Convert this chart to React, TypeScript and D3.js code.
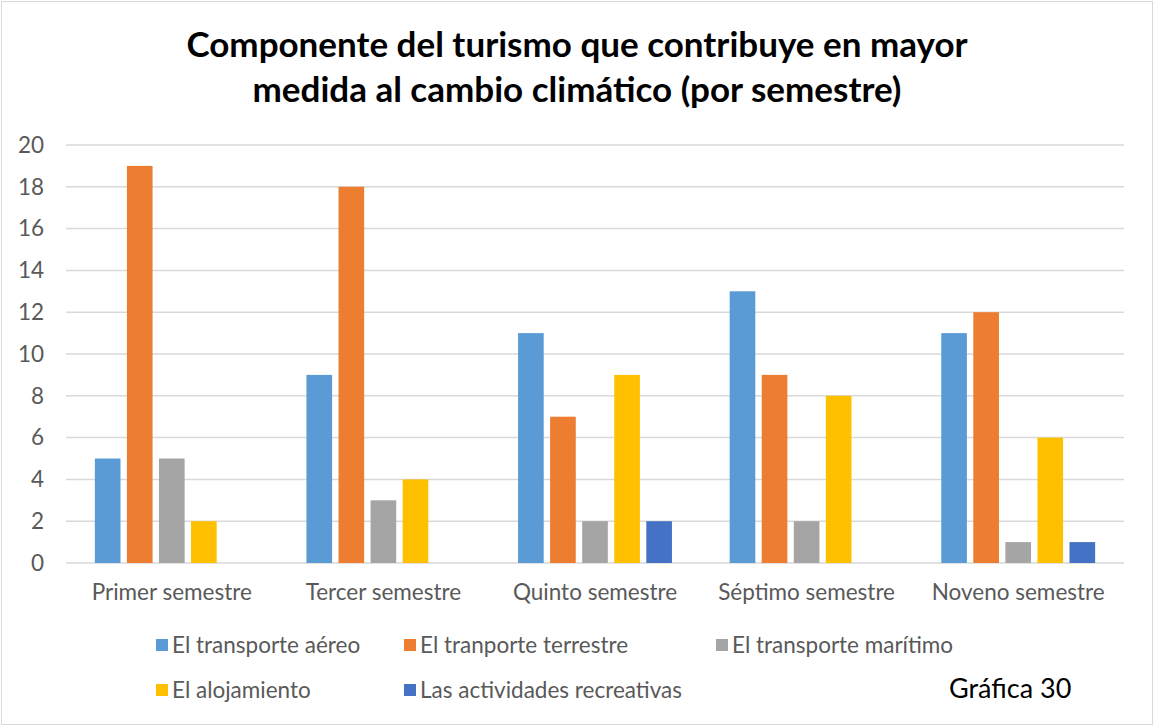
import React, { useRef, useEffect } from 'react'
import { select, scaleBand, scaleLinear, axisLeft, axisBottom, range } from 'd3'

const categories = ['Primer semestre', 'Tercer semestre', 'Quinto semestre', 'Séptimo semestre', 'Noveno semestre']
const seriesNames = ['El transporte aéreo', 'El tranporte terrestre', 'El transporte marítimo', 'El alojamiento', 'Las actividades recreativas']
const aereo = [5, 9, 11, 13, 11]
const terrestre = [19, 18, 7, 9, 12]
const maritimo = [5, 3, 2, 2, 1]
const alojamiento = [2, 4, 9, 8, 6]
const recreativas = [0, 0, 2, 0, 1]
const yTicks = [0, 2, 4, 6, 8, 10, 12, 14, 16, 18, 20]
const colors = ['#5B9BD5', '#ED7D31', '#A5A5A5', '#FFC000', '#4472C4']

const W = 1154
const H = 726
const FONT = 'Lato, "Open Sans", sans-serif'

export default function App() {
  const canvas = useRef<SVGSVGElement>(null)

  useEffect(() => {
    const values = [aereo, terrestre, maritimo, alojamiento, recreativas]
    const svg = select(canvas.current)
    svg.selectAll('*').remove()
    svg.attr('width', W).attr('height', H)

    svg.append('rect').attr('x', 1.5).attr('y', 1.5).attr('width', W - 3).attr('height', H - 3)
      .attr('fill', '#fff').attr('stroke', '#D9D9D9')

    // title
    const title = svg.append('text').attr('text-anchor', 'middle').attr('font-family', FONT)
      .attr('font-weight', 700).attr('font-size', 35).attr('fill', '#000')
    title.append('tspan').attr('x', 577).attr('y', 57).text('Componente del turismo que contribuye en mayor')
    title.append('tspan').attr('x', 577).attr('y', 102).text('medida al cambio climático (por semestre)')

    const left = 66, right = 1124, top = 145, bottom = 563
    const x0 = scaleBand().domain(categories).range([left, right])
    const x1 = scaleBand().domain(seriesNames).range([0, x0.bandwidth()]).paddingInner(0.2).paddingOuter(0.9)
    const y = scaleLinear().domain([0, 20]).range([bottom, top])

    const g = svg.append('g')

    // grid
    g.selectAll('line.grid').data(yTicks).join('line').attr('class', 'grid')
      .attr('x1', left).attr('x2', right).attr('y1', d => y(d)).attr('y2', d => y(d))
      .attr('stroke', '#D9D9D9').attr('stroke-width', 1.5)

    const yAxis = g.append('g').attr('transform', `translate(${left},0)`)
      .call(axisLeft(y).tickValues(yTicks).tickSize(0).tickPadding(22))
    yAxis.select('.domain').remove()
    yAxis.selectAll('text').attr('font-family', FONT).attr('font-size', 22.5).attr('fill', '#595959')

    // bars
    values.forEach((vals, si) => {
      g.append('g').selectAll('rect').data(range(categories.length)).join('rect')
        .attr('x', i => (x0(categories[i]) as number) + (x1(seriesNames[si]) as number))
        .attr('width', x1.bandwidth())
        .attr('y', i => y(vals[i]))
        .attr('height', i => y(0) - y(vals[i]))
        .attr('fill', colors[si])
    })

    const xAxis = g.append('g').attr('transform', `translate(0,${bottom})`)
      .call(axisBottom(x0).tickSize(0).tickPadding(21))
    xAxis.select('.domain').remove()
    xAxis.selectAll('text').attr('font-family', FONT).attr('font-size', 22.5).attr('fill', '#595959')

    // legend
    const legendPos = [[156, 645], [404, 645], [716, 645], [156, 690], [404, 690]]
    const leg = svg.append('g')
    seriesNames.forEach((name, i) => {
      const [lx, ly] = legendPos[i]
      leg.append('rect').attr('x', lx).attr('y', ly - 6).attr('width', 12).attr('height', 12).attr('fill', colors[i])
      leg.append('text').attr('x', lx + 16).attr('y', ly).attr('dy', '0.35em')
        .attr('font-family', FONT).attr('font-size', 22.5).attr('fill', '#595959').text(name)
    })

    svg.append('text').attr('x', 949).attr('y', 698).attr('font-family', FONT)
      .attr('font-size', 27).attr('fill', '#000').text('Gráfica 30')
  })

  return (
    <svg ref={canvas} style={{ position: 'absolute', left: 0, top: 0 }} />
  )
}
